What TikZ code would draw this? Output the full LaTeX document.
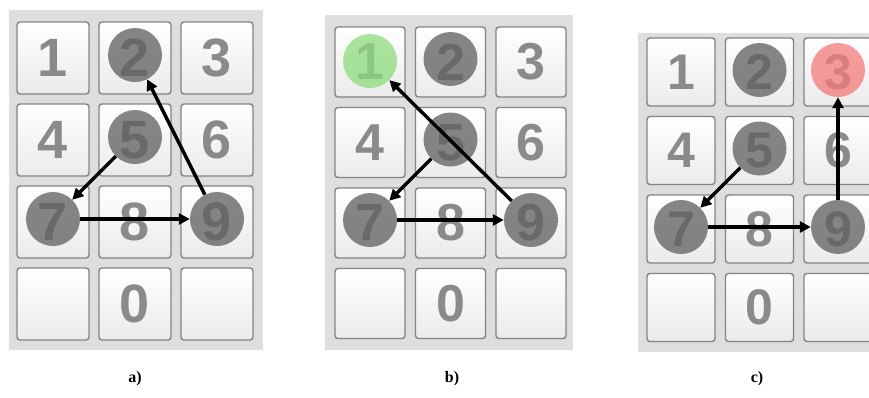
\documentclass[tikz,border=0pt]{standalone}
\usepackage{fontspec}
\setmainfont{Liberation Serif}
\newfontfamily\keyfont{Liberation Sans}
\usepackage{xcolor}
\usepackage{tikz}
\usetikzlibrary{arrows.meta,positioning,calc}
\definecolor{padbg}{HTML}{DEDEDE}
\definecolor{keyedge}{HTML}{858585}
\definecolor{keydigit}{HTML}{8A8A8A}
\definecolor{dotgrey}{HTML}{5E5E5E}
\definecolor{dotgreen}{HTML}{8EDC7C}
\definecolor{dotred}{HTML}{F47A7A}
\tikzset{
  keybox/.style={draw=keyedge, line width=1.4pt, rounded corners=3pt,
    top color=white, bottom color=black!8, text=keydigit, inner sep=0pt,
    preaction={draw=black!14, line width=3.5pt}},
  dot/.style={circle, minimum size=54pt, inner sep=0pt, fill=dotgrey, fill opacity=0.75},
  arr/.style={line width=3.4pt, -{Triangle[length=11pt,width=11pt]}},
  caption/.style={font=\bfseries\fontsize{16}{16}\selectfont}
}
% keypad: prefix, x and y of first key, pitch, key size, digit size
\newcommand{\keypad}[6]{%
  \foreach \d/\t/\c/\r in {1/1/0/0,2/2/1/0,3/3/2/0,4/4/0/1,5/5/1/1,6/6/2/1,
      7/7/0/2,8/8/1/2,9/9/2/2,0/0/1/3,l/{}/0/3,r/{}/2/3}{
    \node[keybox, minimum size=#5pt, font=\keyfont\bfseries\fontsize{#6}{#6}\selectfont]
      (#1\d) at (#2+#5/2+\c*#4, #3+#5/2+\r*#4) {\t};
  }}

\begin{document}
\begin{tikzpicture}[x=1pt, y=-1pt]
    \useasboundingbox (0,0) rectangle (869,397);

    % Panel backgrounds
    \fill[padbg] (9,10) rectangle (263,350);
    \fill[padbg] (325,15) rectangle (573,350);
    \fill[padbg] (638,33) rectangle (880,352);

    % Keys
    \keypad{a}{17}{22}{82}{72}{54}
    \keypad{b}{335}{27}{80.5}{70}{52}
    \keypad{c}{647}{38}{78.5}{68}{50}

    % a) pattern 5-7-9-2
    \foreach \k in {2,5,7,9}
        \node[dot] (a-d\k) at ([yshift=3pt]a\k.center) {};
    \draw[arr] (a-d5) -- (a-d7);
    \draw[arr] (a-d7) -- (a-d9);
    \draw[arr] (a-d9) -- (a-d2);

    % b) pattern 5-7-9-1, last one green
    \foreach \k in {2,5,7,9}
        \node[dot] (b-d\k) at ([yshift=3pt]b\k.center) {};
    \node[dot, fill=dotgreen] (b-d1) at ([yshift=1pt]b1.center) {};
    \draw[arr] (b-d5) -- (b-d7);
    \draw[arr] (b-d7) -- (b-d9);
    \draw[arr] (b-d9) -- (b-d1);

    % c) pattern 5-7-9-3, last one red
    \foreach \k in {2,5,7,9}
        \node[dot] (c-d\k) at ([yshift=2pt]c\k.center) {};
    \node[dot, fill=dotred] (c-d3) at ([yshift=2pt]c3.center) {};
    \draw[arr] (c-d5) -- (c-d7);
    \draw[arr] (c-d7) -- (c-d9);
    \draw[arr] (c-d9) -- (c-d3);

    % Captions
    \node[caption] (capa) at (135,379) {a)};
    \node[caption] (capb) at (452,379) {b)};
    \node[caption] (capc) at (757,379) {c)};
\end{tikzpicture}
\end{document}
